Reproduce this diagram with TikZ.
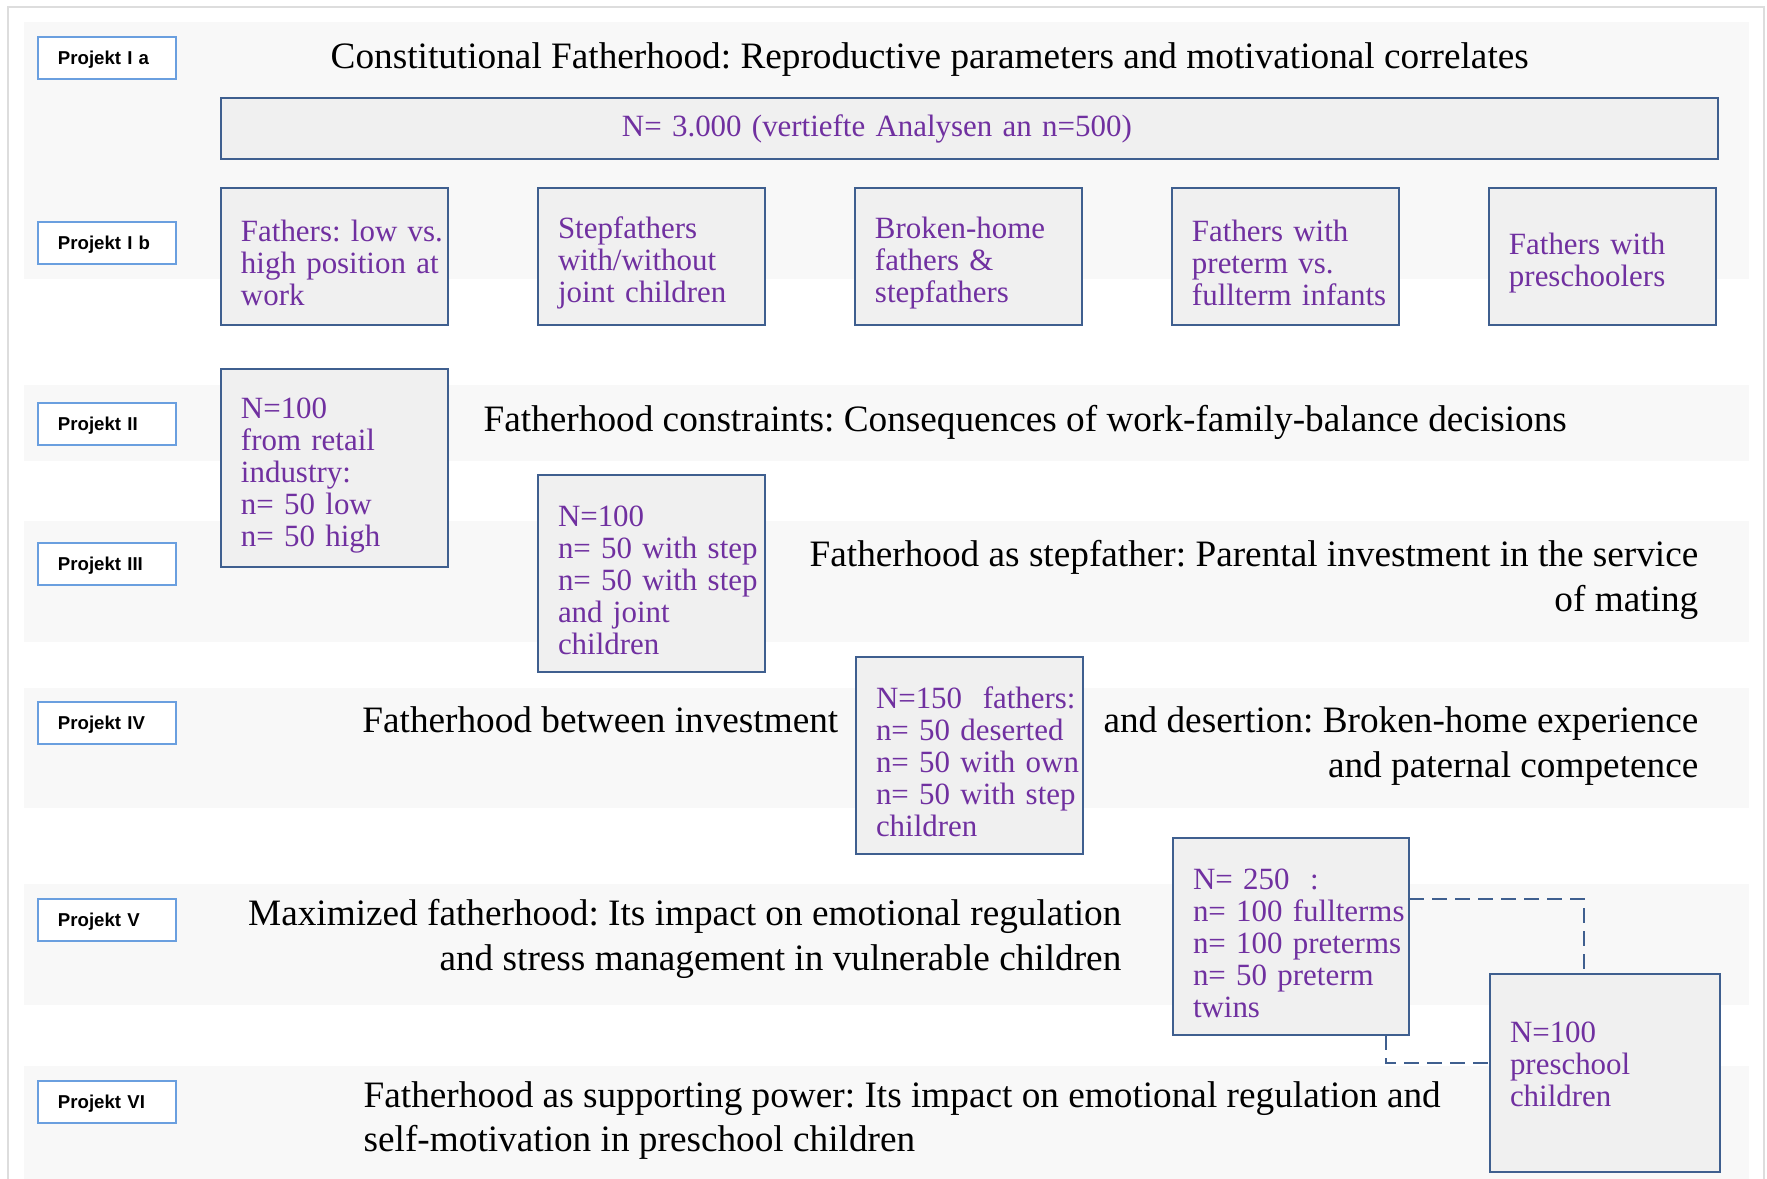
\documentclass[tikz,border=0pt]{standalone}
\usepackage{fontspec}
\setmainfont{Liberation Serif}
\newfontfamily\tagfont{Liberation Sans}
\usetikzlibrary{positioning}
\definecolor{bandgray}{HTML}{F8F8F8}
\definecolor{boxgray}{HTML}{F0F0F0}
\definecolor{boxblue}{HTML}{3F5F8F}
\definecolor{tagblue}{HTML}{6A9FDF}
\definecolor{grptext}{HTML}{7030A0}
\definecolor{framegray}{HTML}{DDDDDD}
\newcommand{\titlesize}{\fontsize{10.6pt}{12.4pt}\selectfont}
\newcommand{\groupsize}{\fontsize{8.8pt}{9.1pt}\selectfont}
\frenchspacing

\begin{document}
\begin{tikzpicture}[
		x=0.1mm, y=-0.1mm,
		band/.style={fill=bandgray, draw=none},
		pad/.style={execute at begin node={\leftskip=#1\rightskip=-1cm plus 1fil\relax}},
		tag/.style={draw=tagblue, fill=white, line width=0.2mm, anchor=north west,
		inner sep=0pt, outer sep=0pt, text width=13.8mm, minimum height=4.2mm,
		text height=1.3mm, text depth=0pt, pad=2mm,
		font=\tagfont\bfseries\fontsize{5.3pt}{6pt}\selectfont},
		group/.style={draw=boxblue, fill=boxgray, line width=0.2mm, anchor=north west,
		inner sep=0pt, outer sep=0pt, text width=22.7mm, minimum height=19.7mm,
		text height=3.5mm, align=left, text=grptext, font=\groupsize, pad=2mm},
		title/.style={font=\titlesize, inner sep=0pt},
		link/.style={draw=boxblue, line width=0.2mm, dash pattern=on 1.5mm off 0.8mm}
		]
		\useasboundingbox (0,0) rectangle (1767,1179);
		% background bands
		\fill[band] (24,22) rectangle (1749,279);
		\fill[band] (24,385) rectangle (1749,461);
		\fill[band] (24,521) rectangle (1749,642);
		\fill[band] (24,688) rectangle (1749,808);
		\fill[band] (24,884) rectangle (1749,1005);
		\fill[band] (24,1066) rectangle (1749,1179);
		\draw[framegray, line width=0.2mm] (8,1179) -- (8,7) -- (1764,7) -- (1764,1179);

		\node[tag] (p1a) at (38,37) {Projekt I a};
		\node[tag] (p1b) at (38,222) {Projekt I b};
		\node[tag] (p2) at (38,403) {Projekt II};
		\node[tag] (p3) at (38,543) {Projekt III};
		\node[tag] (p4) at (38,702) {Projekt IV};
		\node[tag] (p5) at (38,899) {Projekt V};
		\node[tag] (p6) at (38,1081) {Projekt VI};

		% Projekt I
		\node[title, anchor=base west] (t1) at (330,68) {Constitutional Fatherhood: Reproductive parameters and motivational correlates};
		\node[group, text width=149.7mm, minimum height=6.1mm, text height=, pad=40.1mm] (all) at (221,98) {N= 3.000 (vertiefte Analysen an n=500)};
		\node[group, minimum height=13.7mm] (b1) at (221,188) {Fathers: low vs.\\high position at\\work};
		\node[group, minimum height=13.7mm, right=9mm of b1] (b2) {Stepfathers\\with/without\\joint children};
		\node[group, minimum height=13.7mm, right=9mm of b2] (b3) {Broken-home\\fathers \&\\stepfathers};
		\node[group, minimum height=13.7mm, right=9mm of b3] (b4) {Fathers with\\preterm vs.\\fullterm infants};
		\node[group, minimum height=13.7mm, right=9mm of b4] (b5) {Fathers with\\preschoolers};

		% Projekt II - VI
		\node[group, minimum height=19.8mm] (s2) at (221,369) {N=100\\from retail\\industry:\\n= 50 low\\n= 50 high};
		\node[title, anchor=base west] (t2) at (483,431) {Fatherhood constraints: Consequences of work-family-balance decisions};

		\node[group] (s3) at (538,475) {N=100\\n= 50 with step\\n= 50 with step\\and joint\\children};
		\node[title, anchor=base east] (t3) at (1699,566) {Fatherhood as stepfather: Parental investment in the service};
		\node[title, anchor=base east] (t3b) at (1699,611) {of mating};

		\node[group] (s4) at (856,657) {N=150\ \ fathers:\\n= 50 deserted\\n= 50 with own\\n= 50 with step\\children};
		\node[title, anchor=base east] (t4) at (839,732) {Fatherhood between investment};
		\node[title, anchor=base east] (t4b) at (1699,732) {and desertion: Broken-home experience};
		\node[title, anchor=base east] (t4c) at (1699,777) {and paternal competence};

		\node[group, text width=23.6mm] (s5) at (1173,838) {N= 250\ \ :\\n= 100 fullterms\\n= 100 preterms\\n= 50 preterm\\twins};
		\node[title, anchor=base east] (t5) at (1122,925) {Maximized fatherhood: Its impact on emotional regulation};
		\node[title, anchor=base east] (t5b) at (1122,970) {and stress management in vulnerable children};

		\node[group, text width=23mm, minimum height=19.8mm, text height=0.4mm] (s6) at (1490,974) {N=100\\preschool\\children};
		\node[title, anchor=base west] (t6) at (363,1107) {Fatherhood as supporting power: Its impact on emotional regulation and};
		\node[title, anchor=base west] (t6b) at (363,1151) {self-motivation in preschool children};

		\draw[link] ([yshift=3.75mm]s5.east) -| ([xshift=-2.1mm]s6.north);
		\draw[link] ([xshift=9.5mm]s5.south) |- ([yshift=1mm]s6.west);
	\end{tikzpicture}
\end{document}
